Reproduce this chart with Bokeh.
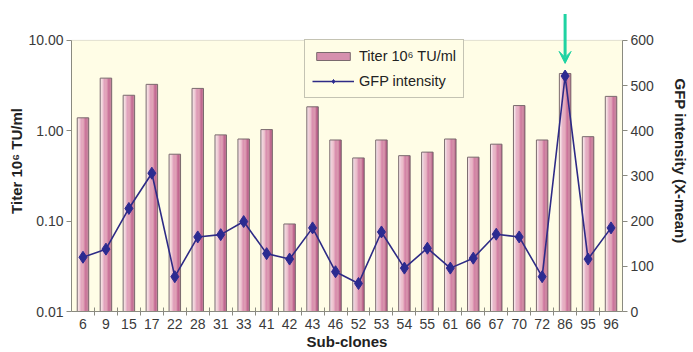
from bokeh.plotting import figure
from bokeh.models import (ColumnDataSource, Range1d, LinearAxis, LinearScale, FixedTicker,
                          PrintfTickFormatter, Legend, LegendItem, Arrow, VeeHead, BoxAnnotation)
from bokeh.transform import dodge
from bokeh.embed import file_html
from bokeh.resources import INLINE

# ---- data ----
subclones = ["6", "9", "15", "17", "22", "28", "31", "33", "41", "42", "43", "46",
             "52", "53", "54", "55", "61", "66", "67", "70", "72", "86", "95", "96"]
titer = [1.39, 3.82, 2.47, 3.26, 0.55, 2.94, 0.90, 0.81, 1.03, 0.093, 1.84, 0.79,
         0.50, 0.79, 0.53, 0.58, 0.81, 0.51, 0.71, 1.90, 0.79, 4.30, 0.86, 2.40]
gfp = [120, 138, 228, 306, 77, 165, 170, 199, 128, 116, 185, 88,
       62, 176, 96, 140, 96, 118, 171, 165, 77, 521, 116, 185]
left_ticks = [0.01, 0.1, 1, 10]
right_ticks = [0, 100, 200, 300, 400, 500, 600]
highlight = "86"

FONT = "Liberation Sans"
x = list(range(len(subclones)))
src = ColumnDataSource(dict(x=x, titer=titer, gfp=gfp, bottom=[0.01] * len(x)))

# the frame reaches above the axes' top so that the arrow is not clipped
p = figure(width=693, height=352, output_backend="svg", toolbar_location=None,
           y_axis_type="log", x_range=Range1d(-0.5, len(x) - 0.5),
           y_range=Range1d(0.01, 21.4),
           min_border_left=71, min_border_right=71, min_border_top=10, min_border_bottom=40)
p.extra_y_ranges = {"gfp": Range1d(0, 666)}
p.extra_y_scales = {"gfp": LinearScale()}
p.border_fill_color = "white"
p.background_fill_color = "white"
p.outline_line_color = None
p.xgrid.visible = False
p.ygrid.visible = False

# cream plot area with grey border
p.add_layout(BoxAnnotation(bottom=0.01, top=10, fill_color="#FFFDE6", fill_alpha=1,
                           line_color="#9a9a8a", line_width=1, level="underlay"))

# ---- bars with a left-to-right gradient made of strips ----
strip_colors = ["#F6E4EB", "#EFCCDA", "#E8B6CA", "#E1A2BC", "#DA90AF",
                "#D382A5", "#CB759B", "#C06890", "#B45D86"]
bw = 0.5
n = len(strip_colors)
sw = bw / n
for k, c in enumerate(strip_colors):
    off = -bw / 2 + sw * (k + 0.5)
    p.vbar(x=dodge("x", off), width=sw * 1.02, top="titer", bottom="bottom",
           source=src, fill_color=c, line_color=None)
p.vbar(x="x", width=bw, top="titer", bottom="bottom", source=src,
       fill_alpha=0, line_color="#7a6a6e", line_width=1)

# zero-height bar used only for the legend swatch
dummy = ColumnDataSource(dict(x=[0], top=[0.01], bottom=[0.01]))
bar_leg = p.vbar(x="x", width=bw, top="top", bottom="bottom", source=dummy,
                 fill_color="#D690AE", line_color="#7a6a6e", line_width=1)

# ---- GFP line ----
ln = p.line("x", "gfp", source=src, y_range_name="gfp", line_color="#2E2B86", line_width=1.6)
mk = p.scatter("x", "gfp", source=src, y_range_name="gfp", marker="diamond", size=12,
               fill_color="#2B2A90", line_color="#2B2A90")

# ---- axes ----
xa = p.xaxis[0]
xa.ticker = FixedTicker(ticks=x, minor_ticks=[i + 0.5 for i in x[:-1]])
xa.major_label_overrides = {i: s for i, s in enumerate(subclones)}
xa.major_tick_in = 0
xa.major_tick_out = 0
xa.minor_tick_in = 4
xa.minor_tick_out = 4
xa.axis_label = "Sub-clones"
xa.major_label_standoff = 3
xa.axis_label_standoff = 1

ya = p.yaxis[0]
ya.ticker = FixedTicker(ticks=left_ticks, minor_ticks=[])
ya.formatter = PrintfTickFormatter(format="%.2f")
ya.bounds = (left_ticks[0], left_ticks[-1])
ya.major_tick_in = 0
ya.major_tick_out = 5
ya.minor_tick_in = 0
ya.minor_tick_out = 0
ya.axis_label = "Titer 10\u2076 TU/ml"
ya.major_label_standoff = 3
ya.axis_label_standoff = 0

ra = LinearAxis(y_range_name="gfp", ticker=FixedTicker(ticks=right_ticks, minor_ticks=[]),
                axis_label="GFP intensity (X-mean)", bounds=(right_ticks[0], right_ticks[-1]))
ra.major_tick_in = 0
ra.major_tick_out = 5
ra.minor_tick_in = 0
ra.minor_tick_out = 0
ra.major_label_standoff = 3
ra.axis_label_standoff = 15
p.add_layout(ra, "right")

for ax in (xa, ya, ra):
    ax.axis_line_color = "#8a8a80"
    ax.major_tick_line_color = "#8a8a80"
    ax.minor_tick_line_color = "#8a8a80"
    ax.major_label_text_font = FONT
    ax.major_label_text_font_size = "14px"
    ax.major_label_text_color = "#3a3a3a"
    ax.axis_label_text_font = FONT
    ax.axis_label_text_font_size = "15px"
    ax.axis_label_text_font_style = "bold"
    ax.axis_label_text_color = "#222222"

# ---- legend ----
legend = Legend(items=[LegendItem(label="Titer 10\u2076 TU/ml", renderers=[bar_leg]),
                       LegendItem(label="GFP intensity", renderers=[ln, mk])],
                location=(233, 213), orientation="vertical",
                glyph_width=42, glyph_height=10, label_height=18,
                label_standoff=5, spacing=7, padding=7, margin=0,
                label_text_font=FONT, label_text_font_size="14.5px",
                label_text_color="#222222",
                border_line_color="#8a8a80", border_line_width=1.2,
                background_fill_color="#FFFDE6", background_fill_alpha=1)
p.add_layout(legend, "center")

# ---- arrow over the highlighted clone ----
hi = subclones.index(highlight)
p.add_layout(Arrow(x_start=hi, x_end=hi, y_start=658, y_end=549, y_range_name="gfp",
                   line_color="#1FD3A2", line_width=3,
                   end=VeeHead(size=12, fill_color="#1FD3A2", line_color="#1FD3A2")))

open("out.html", "w").write(file_html(p, INLINE))
